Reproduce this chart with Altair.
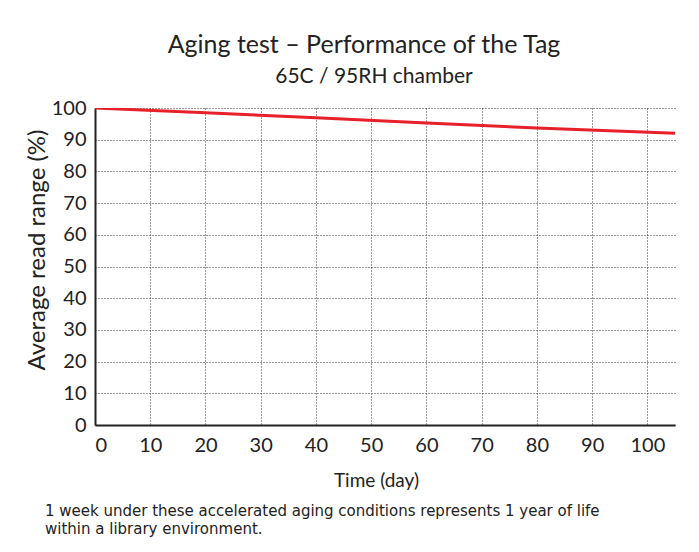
import altair as alt
import pandas as pd

# Data
days = [0, 20, 40, 60, 80, 105]
read_range = [100, 98.5, 96.9, 95.3, 93.7, 92.0]

x_ticks = [0, 10, 20, 30, 40, 50, 60, 70, 80, 90, 100]
y_ticks = [0, 10, 20, 30, 40, 50, 60, 70, 80, 90, 100]

title_text = "Aging test \u2013 Performance of the Tag"
subtitle_text = "65C / 95RH chamber"
x_title = "Time (day)"
y_title = "Average read range (%)"
note_lines = [
    "1 week under these accelerated aging conditions represents 1 year of life",
    "within a library environment.",
]

FONT = "Lato"
NOTE_FONT = "DejaVu Sans"
TEXT_COLOR = "#222222"

df = pd.DataFrame({"day": days, "range": read_range})

W, H = 580, 317

line = alt.Chart(df).mark_line(color="#e8202a", strokeWidth=3, clip=True).encode(
    x=alt.X("day:Q",
            scale=alt.Scale(domain=[0, 105], nice=False, zero=False),
            axis=alt.Axis(values=x_ticks, title=x_title, grid=True,
                          gridDash=[1, 2], gridColor="#333333", gridWidth=1,
                          domainColor="#222222", domainWidth=2,
                          ticks=False, labelPadding=10, labelFontSize=20,
                          labelColor=TEXT_COLOR, labelFont=FONT,
                          titleFont=FONT, titleFontSize=19, titleFontWeight="normal",
                          titleColor=TEXT_COLOR, titlePadding=16, titleX=281)),
    y=alt.Y("range:Q",
            scale=alt.Scale(domain=[0, 100], nice=False),
            axis=alt.Axis(values=y_ticks, title=None, grid=True,
                          gridDash=[1, 2], gridColor="#333333", gridWidth=1,
                          domainColor="#222222", domainWidth=2,
                          ticks=False, labelPadding=9, labelFontSize=20,
                          labelColor=TEXT_COLOR, labelFont=FONT)),
)

def txt(s, x, y, size, align="center", baseline="alphabetic", angle=0, font=FONT, **kw):
    return alt.Chart(pd.DataFrame({"t": [s]})).mark_text(
        font=font, fontSize=size, color=TEXT_COLOR, align=align,
        baseline=baseline, angle=angle, **kw
    ).encode(text="t:N", x=alt.value(x), y=alt.value(y))

layers = [
    line,
    txt(title_text, 269, -55, 25),
    txt(subtitle_text, 279, -25, 21),
    txt(y_title, -57, 142, 24, baseline="middle", angle=270),
    txt(note_lines[0], -50, 408, 15, align="left", font=NOTE_FONT),
    txt(note_lines[1], -50, 426, 15, align="left", font=NOTE_FONT),
]

chart = alt.layer(*layers).properties(
    width=W, height=H,
    autosize=alt.AutoSizeParams(type="none"),
    padding={"left": 87, "top": 100, "right": 16, "bottom": 119},
    background="white",
).configure_view(stroke=None)

chart.save("out.html", embed_options={"renderer": "svg", "actions": False})
